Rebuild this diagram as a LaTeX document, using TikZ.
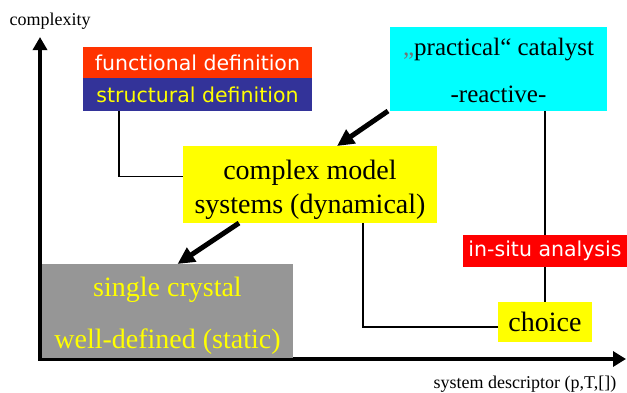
\documentclass[tikz,border=0pt]{standalone}
\usepackage{fontspec}
\setmainfont{Liberation Serif}
\newfontfamily\comicfont{DejaVu Sans}
\usetikzlibrary{arrows.meta, positioning, calc}
\definecolor{funcred}{HTML}{FF3300}
\definecolor{structblue}{HTML}{333399}
\definecolor{insitured}{HTML}{FF0000}
\definecolor{catcyan}{HTML}{00FFFF}
\definecolor{modelyellow}{HTML}{FFFF00}
\definecolor{crystalgray}{HTML}{969696}

\begin{document}
\begin{tikzpicture}[
  x=1pt, y=-1pt,
  sysbox/.style={rectangle, inner sep=0pt, outer sep=0pt, align=center,
                font=\fontsize{28}{34}\selectfont},
  tagbox/.style={rectangle, inner sep=0pt, outer sep=0pt, align=center,
                font=\comicfont\fontsize{20.5}{24}\selectfont},
  axislabel/.style={font=\fontsize{18}{22}\selectfont},
  axis/.style={line width=4pt, {Triangle[length=13pt, width=14pt]}-{Triangle[length=13pt, width=15pt]}},
  link/.style={line width=1.5pt},
  push/.style={line width=5pt, -{Triangle[length=17pt, width=16pt]}},
]
\useasboundingbox (0,0) rectangle (627,392);

% === Axes ===
\coordinate (ytip)   at (40,37);
\coordinate (origin) at (40,359);
\coordinate (xtip)   at (626,359);
\draw[axis] (ytip) -- (origin) -- (xtip);
\node[axislabel] (ylab) at (50,21) {complexity};
\node[axislabel] (xlab) at (525,384) {system descriptor (p,T,[])};

% === Definitions (top left) ===
\node[tagbox, fill=funcred, text=white, minimum width=229pt, minimum height=31pt]
  (func) at (197.5,62.5) {functional definition};
\node[tagbox, fill=structblue, text=modelyellow, minimum width=229pt, minimum height=33pt,
  below=0pt of func] (struct) {structural definition};

% === Systems ===
\node[sysbox, fill=catcyan, minimum width=217pt, minimum height=84pt,
  font=\fontsize{25}{30}\selectfont] (cat) at (498.5,69)
  {\rule{0pt}{20pt}{\color{black!55}„}practical“ catalyst\\[17pt]-reactive-};

\node[sysbox, fill=modelyellow, minimum width=254pt, minimum height=77pt]
  (complex) at (310,184.5) {\rule{0pt}{31pt}complex model\\systems (dynamical)};

\node[sysbox, fill=crystalgray, text=modelyellow, minimum width=251pt, minimum height=94pt]
  (crystal) at (167.5,311) {\rule{0pt}{29pt}single crystal\\[18pt]well-defined (static)};

\node[tagbox, fill=insitured, text=white, minimum width=164pt, minimum height=32pt]
  (insitu) at (545,251) {in-situ analysis};

\node[sysbox, fill=modelyellow, minimum width=94pt, minimum height=40pt]
  (choice) at (545,322) {choice};

% === Connectors ===
\draw[link] ([xshift=36pt]struct.south west) |- ([yshift=8pt]complex.west);
\draw[link] (insitu.north |- cat.south) -- (insitu.north);
\draw[link] (insitu.south) -- (choice.north);
\draw[link] ([xshift=53pt]complex.south) |- ([yshift=-5pt]choice.west);

\draw[push] ([xshift=-2pt]cat.south west) -- ([xshift=27pt]complex.north);
\draw[push] ([xshift=56pt]complex.south west) -- ([xshift=10pt]crystal.north);

\end{tikzpicture}
\end{document}
